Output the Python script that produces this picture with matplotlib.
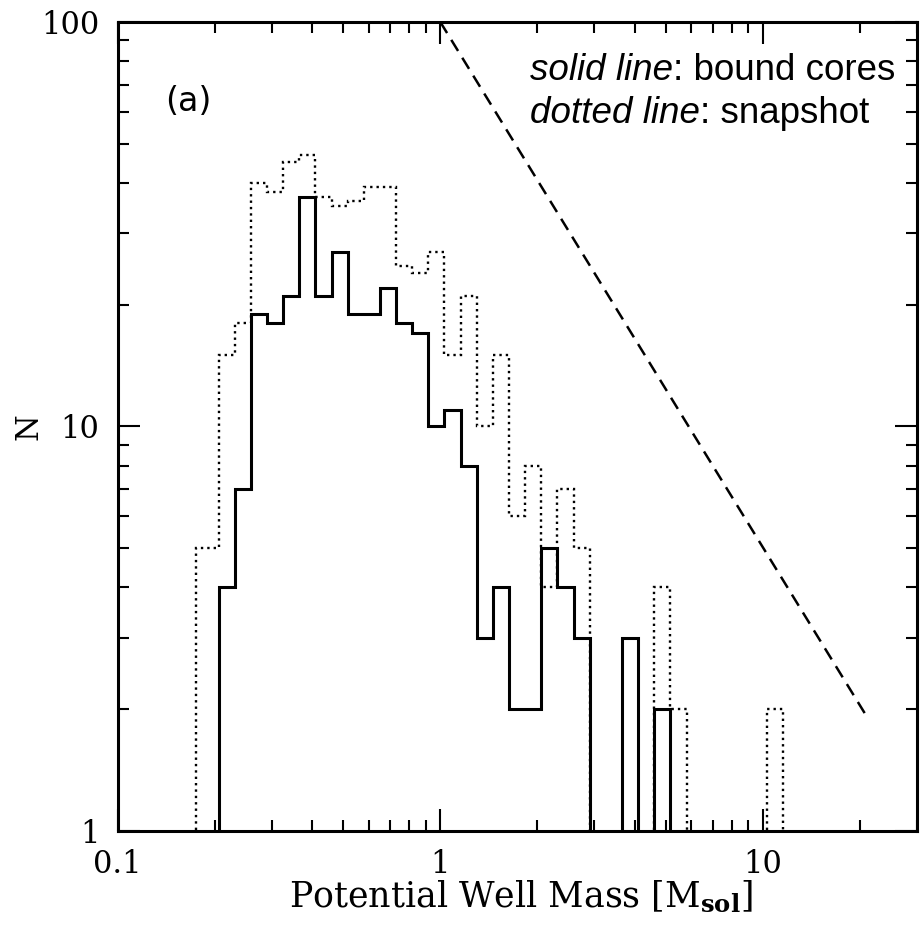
import numpy as np
import matplotlib
matplotlib.use("Agg")
import matplotlib.pyplot as plt
from matplotlib.ticker import LogLocator, FuncFormatter, NullFormatter

# ----------------- Data -----------------
# log-spaced mass bins, 0.05 dex wide
log_first_edge = -0.687
bin_dex = 0.05

# bound cores (solid)
bound_counts = [4, 7, 19, 18, 21, 37, 21, 27, 19, 19, 22, 18, 17, 10, 11, 8,
                3, 4, 2, 2, 5, 4, 3, 0, 0, 3, 0, 2]

# snapshot (dotted); first bin starts lower than the common grid
snap_first_edge = 0.175
snap_first_count = 5
snap_counts = [15, 18, 40, 38, 45, 47, 37, 35, 36, 39, 39, 25, 24, 27, 15, 21,
               10, 15, 6, 8, 4, 7, 5, 0, 0, 0, 0, 4, 2, 0, 0, 0, 0, 0, 2]

# reference power-law line (dashed)
ref_mass = [1.0, 20.7]
ref_n = [100.0, 1.95]

floor = 0.1  # empty bins drop below the axis

def grid_edges(nbins):
    return 10 ** (log_first_edge + bin_dex * np.arange(nbins + 1))

bound_edges = grid_edges(len(bound_counts))
bound_vals = np.where(np.array(bound_counts) > 0, bound_counts, floor)

snap_edges = np.concatenate([[snap_first_edge], grid_edges(len(snap_counts))])
snap_vals = np.array([snap_first_count] + snap_counts, dtype=float)
snap_vals = np.where(snap_vals > 0, snap_vals, floor)

# ----------------- Plot -----------------
plt.rcParams["mathtext.fontset"] = "dejavuserif"

fig = plt.figure(figsize=(9.21, 9.31), dpi=100)
ax = fig.add_axes([0.1276, 0.1074, 0.8681, 0.869])
ax.set_xscale("log")
ax.set_yscale("log")
ax.set_xlim(0.1, 30)
ax.set_ylim(1, 100)

ax.stairs(snap_vals, snap_edges, baseline=floor, color="black", lw=1.7,
          linestyle=(0, (1, 1.7)), zorder=2)
ax.stairs(bound_vals, bound_edges, baseline=floor, color="black", lw=2.2,
          zorder=3)
ax.plot(ref_mass, ref_n, color="black", lw=1.8, linestyle=(0, (5.2, 3.2)),
        clip_on=False)

# axes frame and ticks
for sp in ax.spines.values():
    sp.set_linewidth(2.2)
ax.tick_params(which="both", direction="in", top=True, right=True, width=1.5)
ax.tick_params(which="major", length=16, pad=13, labelsize=22)
ax.tick_params(which="minor", length=8)

fmt = FuncFormatter(lambda v, pos: f"{v:g}")
ax.xaxis.set_major_locator(LogLocator(base=10))
ax.yaxis.set_major_locator(LogLocator(base=10))
ax.xaxis.set_minor_locator(LogLocator(base=10, subs=np.arange(2, 10)))
ax.yaxis.set_minor_locator(LogLocator(base=10, subs=np.arange(2, 10)))
ax.xaxis.set_major_formatter(fmt)
ax.yaxis.set_major_formatter(fmt)
ax.xaxis.set_minor_formatter(NullFormatter())
ax.yaxis.set_minor_formatter(NullFormatter())
for lab in ax.get_xticklabels() + ax.get_yticklabels():
    lab.set_family("DejaVu Serif")

ax.set_xlabel(r"Potential Well Mass [M$_{\mathbf{sol}}$]", fontsize=25,
              family="DejaVu Serif", va="center")
ax.xaxis.set_label_coords(0.505, -0.082)
ax.set_ylabel("N", fontsize=22, family="DejaVu Serif", va="center")
ax.yaxis.set_label_coords(-0.111, 0.5)

ax.text(0.088, 0.902, "(a)", transform=ax.transAxes, fontsize=24,
        family="DejaVu Sans", ha="center", va="center")

# line-style key: italic part followed by upright part
t1 = ax.text(0.516, 0.918, "solid line", transform=ax.transAxes, fontsize=26.5,
             family="Liberation Sans", style="italic", va="bottom", ha="left")
ax.annotate(": bound cores", xy=(1, 0), xycoords=t1, fontsize=26.5,
            family="Liberation Sans", va="bottom", ha="left")
t2 = ax.text(0.516, 0.865, "dotted line", transform=ax.transAxes, fontsize=26.5,
             family="Liberation Sans", style="italic", va="bottom", ha="left")
ax.annotate(": snapshot", xy=(1, 0), xycoords=t2, fontsize=26.5,
            family="Liberation Sans", va="bottom", ha="left")

plt.savefig("out.png", dpi=100)
plt.close()
